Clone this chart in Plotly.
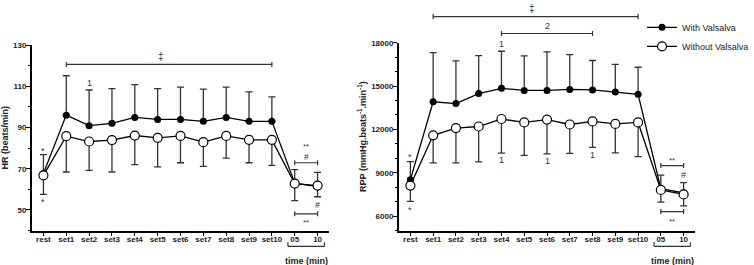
import plotly.graph_objects as go

categories = ["rest", "set1", "set2", "set3", "set4", "set5", "set6", "set7",
              "set8", "set9", "set10", "05", "10"]

hr_with = [67.7, 96.0, 90.9, 92.0, 94.9, 93.9, 93.9, 93.0, 94.9, 93.0, 93.0, 63.0, 61.3]
hr_with_sd = [9.1, 19.1, 17.3, 16.9, 15.9, 15.0, 15.7, 15.6, 14.7, 14.3, 11.9, 6.6, 6.9]
hr_without = [66.8, 85.8, 83.2, 83.9, 86.1, 85.0, 85.9, 82.9, 85.9, 84.0, 84.0, 62.8, 61.8]
hr_without_sd = [9.3, 17.4, 14.0, 15.5, 14.1, 14.1, 13.0, 11.8, 10.8, 11.1, 12.4, 8.3, 5.4]

rpp_with = [8520, 13910, 13790, 14480, 14840, 14700, 14700, 14770, 14730, 14590, 14430, 7900, 7600]
rpp_with_sd = [1250, 3400, 2950, 2630, 2570, 2390, 2660, 2410, 2040, 1910, 1870, 940, 720]
rpp_without = [8110, 11590, 12090, 12200, 12720, 12480, 12680, 12340, 12550, 12380, 12480, 7810, 7500]
rpp_without_sd = [1090, 1910, 2410, 2450, 2360, 2280, 2370, 2000, 1800, 2000, 2370, 840, 800]

hr_ticks = [50, 70, 90, 110, 130]
rpp_ticks = [6000, 9000, 12000, 15000, 18000]

FONT = "Liberation Sans, Arial, sans-serif"
INK = "#222222"
zeros = [0] * len(categories)

fig = go.Figure()


def add_pair(xa, ya, with_vals, with_sd, without_vals, without_sd, show):
    fig.add_trace(go.Scatter(
        x=categories, y=with_vals, xaxis=xa, yaxis=ya, mode="lines+markers",
        name="With Valsalva", showlegend=show, legendgroup="w",
        line=dict(color="black", width=1.3),
        marker=dict(symbol="circle", size=7, color="black"),
        error_y=dict(type="data", symmetric=False, array=with_sd, arrayminus=zeros,
                     color="#333333", thickness=1.3, width=3.5),
        cliponaxis=False,
    ))
    fig.add_trace(go.Scatter(
        x=categories, y=without_vals, xaxis=xa, yaxis=ya, mode="lines+markers",
        name="Without Valsalva", showlegend=show, legendgroup="wo",
        line=dict(color="black", width=1.3),
        marker=dict(symbol="circle", size=9, color="white",
                    line=dict(color="black", width=1.2)),
        error_y=dict(type="data", symmetric=False, array=zeros, arrayminus=without_sd,
                     color="#333333", thickness=1.3, width=3.5),
        cliponaxis=False,
    ))


add_pair("x", "y", hr_with, hr_with_sd, hr_without, hr_without_sd, True)
add_pair("x2", "y2", rpp_with, rpp_with_sd, rpp_without, rpp_without_sd, False)

idx = {c: i for i, c in enumerate(categories)}
shapes = []
annotations = []


def bracket(xref, yref, a, b, y, h):
    lw = 1.2
    col = "#333333"
    shapes.append(dict(type="line", xref=xref, yref=yref, x0=a, x1=b, y0=y, y1=y,
                       line=dict(color=col, width=lw)))
    for xx in (a, b):
        shapes.append(dict(type="line", xref=xref, yref=yref, x0=xx, x1=xx, y0=y - h, y1=y + h,
                           line=dict(color=col, width=lw)))


def label(xref, yref, x, y, text, size=9):
    annotations.append(dict(xref=xref, yref=yref, x=x, y=y, text=text, showarrow=False,
                            font=dict(family=FONT, size=size, color="#333333"),
                            xanchor="center", yanchor="middle"))


# ---- left panel (HR) ----
bracket("x", "y", idx["set1"], idx["set10"], 120.6, 1.2)
label("x", "y", 5.15, 124.6, "‡", 10)
label("x", "y", idx["set2"], 111.8, "1")
label("x", "y", idx["rest"], 78.8, "*")
label("x", "y", idx["rest"], 53.9, "*")
label("x", "y", 11.5, 80.6, "**", 8)
label("x", "y", 11.5, 75.6, "#", 8.5)
bracket("x", "y", idx["05"], idx["10"], 72.9, 1.2)
label("x", "y", idx["10"], 52.2, "#")
bracket("x", "y", idx["05"], idx["10"], 48.1, 1.2)
label("x", "y", 11.5, 43.9, "**", 8)

# ---- right panel (RPP) ----
bracket("x2", "paper", idx["set1"], idx["set10"], 0.952, 0.01)
label("x2", "paper", 5.35, 0.984, "‡", 10)
bracket("x2", "paper", idx["set4"], idx["set8"], 0.887, 0.01)
label("x2", "paper", 6, 0.914, "2")
label("x2", "y2", idx["set4"], 17900, "1")
label("x2", "y2", idx["set4"], 9887, "1")
label("x2", "y2", idx["set6"], 9818, "1")
label("x2", "y2", idx["set8"], 10227, "1")
label("x2", "y2", idx["rest"], 10060, "*")
label("x2", "y2", idx["rest"], 6420, "*")
label("x2", "y2", 11.5, 9880, "**", 8)
bracket("x2", "y2", idx["05"], idx["10"], 9498, 170)
label("x2", "y2", idx["10"], 8864, "#")
bracket("x2", "y2", idx["05"], idx["10"], 6314, 170)
label("x2", "y2", 11.5, 5630, "**", 8)

# ---- time brackets under the x axes ----
for xr in ("x", "x2"):
    shapes.append(dict(type="line", xref=xr, yref="paper", x0=10.7, x1=12.3, y0=0.0717, y1=0.0717,
                       line=dict(color="#333333", width=1.2)))
    for xx in (10.7, 12.3):
        shapes.append(dict(type="line", xref=xr, yref="paper", x0=xx, x1=xx, y0=0.0717, y1=0.0867,
                           line=dict(color="#333333", width=1.2)))
    annotations.append(dict(xref=xr, yref="paper", x=11.5, y=0.016, text="time (min)",
                            showarrow=False, xanchor="center", yanchor="middle",
                            font=dict(family=FONT, size=9, color=INK, weight="bold")))

xaxis_common = dict(
    type="category", categoryorder="array", categoryarray=categories,
    range=[-0.5, 12.5], showline=True, linecolor="black", linewidth=2,
    ticks="outside", ticklen=3, tickwidth=1.2, tickcolor="black",
    tickfont=dict(family=FONT, size=8, color=INK, weight="bold"),
    ticklabelstandoff=-3,
    showgrid=False, zeroline=False, fixedrange=True,
)
yaxis_common = dict(
    showline=True, linecolor="black", linewidth=2,
    ticks="outside", ticklen=4, tickwidth=1.2, tickcolor="black",
    tickfont=dict(family=FONT, size=8, color=INK, weight="bold"),
    tickformat="d", ticklabelstandoff=-2,
    showgrid=False, zeroline=False, fixedrange=True,
)

fig.update_layout(
    width=754, height=265,
    margin=dict(l=0, r=0, t=0, b=0),
    paper_bgcolor="white", plot_bgcolor="white",
    font=dict(family=FONT, color=INK),
    xaxis=dict(domain=[32 / 754, 329 / 754], anchor="y", **xaxis_common),
    xaxis2=dict(domain=[399 / 754, 695 / 754], anchor="y2", **xaxis_common),
    yaxis=dict(domain=[0.13208, 0.84264], anchor="x", range=[40, 130],
               tickvals=hr_ticks,
               minor=dict(dtick=10, ticks="outside", ticklen=2.5, tickcolor="black", tickwidth=1),
               title=dict(text="HR (beats/min)", standoff=3,
                          font=dict(family=FONT, size=9, color=INK, weight="bold")),
               **yaxis_common),
    yaxis2=dict(domain=[0.13208, 0.85170], anchor="x2", range=[5000, 18000],
                tickvals=rpp_ticks,
                minor=dict(dtick=1000, ticks="outside", ticklen=2.5, tickcolor="black", tickwidth=1),
                title=dict(text="RPP (mmHg.beats<sup>-1</sup>.min<sup>-1</sup>)", standoff=3,
                           font=dict(family=FONT, size=9, color=INK, weight="bold")),
                **yaxis_common),
    legend=dict(x=0.852, y=0.966, xanchor="left", yanchor="top",
                bgcolor="rgba(0,0,0,0)", borderwidth=0, itemwidth=30,
                font=dict(family=FONT, size=9, color=INK), tracegroupgap=0),
    shapes=shapes,
    annotations=annotations,
)

fig.write_html("out.html", config={"displayModeBar": False},
               post_script="document.body.style.margin='0';")
